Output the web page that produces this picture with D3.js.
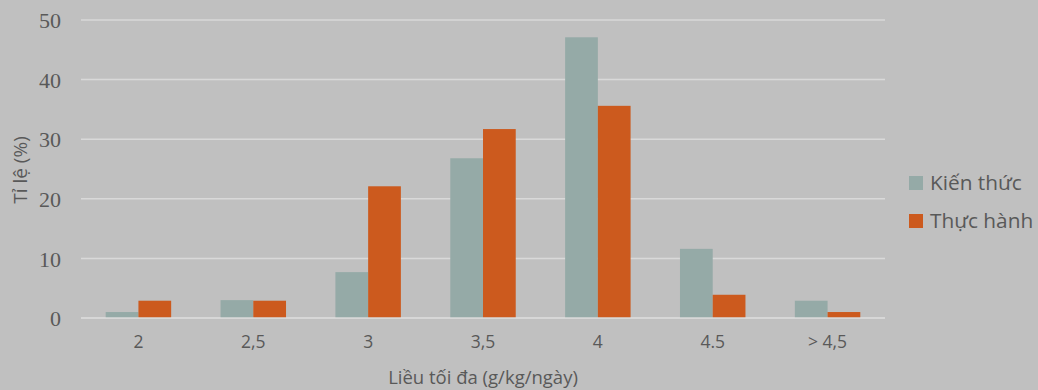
<!DOCTYPE html>
<html>
<head>
<meta charset="utf-8">
<script src="https://cdn.jsdelivr.net/npm/d3@7"></script>
<style>
  html, body { margin: 0; padding: 0; background: #c0c0c0; }
  svg { display: block; }
  text { font-family: "Open Sans", "Noto Sans", sans-serif; fill: #595959; }
</style>
</head>
<body>
<svg id="chart" width="1038" height="390"></svg>
<script>
// Maximum dose categories (g/kg/day)
const categories = ["2", "2,5", "3", "3,5", "4", "4.5", "> 4,5"];
// Share of respondents (%) per series
const kienThuc = [1.0, 3.0, 7.7, 26.8, 47.1, 11.6, 2.9];
const thucHanh = [2.9, 2.9, 22.1, 31.7, 35.6, 3.9, 1.0];
const yTicks = [0, 10, 20, 30, 40, 50];
const seriesNames = ["Kiến thức", "Thực hành"];
const seriesColors = ["#95aaa7", "#cc5a1e"];

const svg = d3.select("#chart");
const margin = { left: 81, right: 153, top: 20, bottom: 72 };
const W = 1038, H = 390;

const x = d3.scaleBand().domain(categories)
  .range([margin.left, W - margin.right]).paddingInner(0.43).paddingOuter(0.215);
const xs = d3.scaleBand().domain([0, 1]).range([0, x.bandwidth()]);
const y = d3.scaleLinear().domain([0, 50]).range([H - margin.bottom, margin.top]);

// Horizontal gridlines
svg.append("g").selectAll("line").data(yTicks).join("line")
  .attr("x1", margin.left).attr("x2", W - margin.right)
  .attr("y1", d => y(d)).attr("y2", d => y(d))
  .attr("stroke", "#d9d9d9").attr("stroke-width", 1.5);

// Y axis labels
const yAxis = svg.append("g").attr("transform", `translate(${margin.left - 20},0)`)
  .call(d3.axisLeft(y).tickValues(yTicks).tickSize(0).tickPadding(0));
yAxis.select(".domain").remove();
yAxis.selectAll("text").style("font-size", "22px").attr("fill", "#595959")
  .style("font-family", "'Liberation Serif', serif").attr("dy", "0.35em");

// Bars
const rows = categories.map((c, i) => ({ c, v: [kienThuc[i], thucHanh[i]] }));
const groups = svg.append("g").selectAll("g").data(rows).join("g")
  .attr("transform", d => `translate(${x(d.c)},0)`);
groups.selectAll("rect").data(d => d.v.map((v, k) => ({ v, k }))).join("rect")
  .attr("x", d => xs(d.k)).attr("width", xs.bandwidth())
  .attr("y", d => y(d.v)).attr("height", d => y(0) - y(d.v))
  .attr("fill", d => seriesColors[d.k]);

// Baseline
svg.append("line").attr("x1", margin.left).attr("x2", W - margin.right)
  .attr("y1", y(0)).attr("y2", y(0)).attr("stroke", "#d9d9d9").attr("stroke-width", 1.5);

// X axis labels
const xAxis = svg.append("g").attr("transform", `translate(0,${y(0)})`)
  .call(d3.axisBottom(x).tickSize(0).tickPadding(18));
xAxis.select(".domain").remove();
xAxis.selectAll("text").style("font-size", "17.5px").attr("fill", "#595959")
  .style("font-family", "'Open Sans', sans-serif");

// Axis titles
svg.append("text").attr("x", (margin.left + W - margin.right) / 2).attr("y", 384)
  .attr("text-anchor", "middle").style("font-size", "18.5px").text("Liều tối đa (g/kg/ngày)");
svg.append("text").attr("transform", `translate(27,170) rotate(-90)`)
  .attr("text-anchor", "middle").style("font-size", "19px").text("Tỉ lệ (%)");

// Legend
const legend = svg.append("g").selectAll("g").data(seriesNames).join("g")
  .attr("transform", (d, i) => `translate(909,${176 + i * 38})`);
legend.append("rect").attr("width", 14).attr("height", 14)
  .attr("fill", (d, i) => seriesColors[i]);
legend.append("text").attr("x", 21).attr("y", 7).attr("dy", "0.35em")
  .style("font-size", "20.8px").text(d => d);
</script>
</body>
</html>
